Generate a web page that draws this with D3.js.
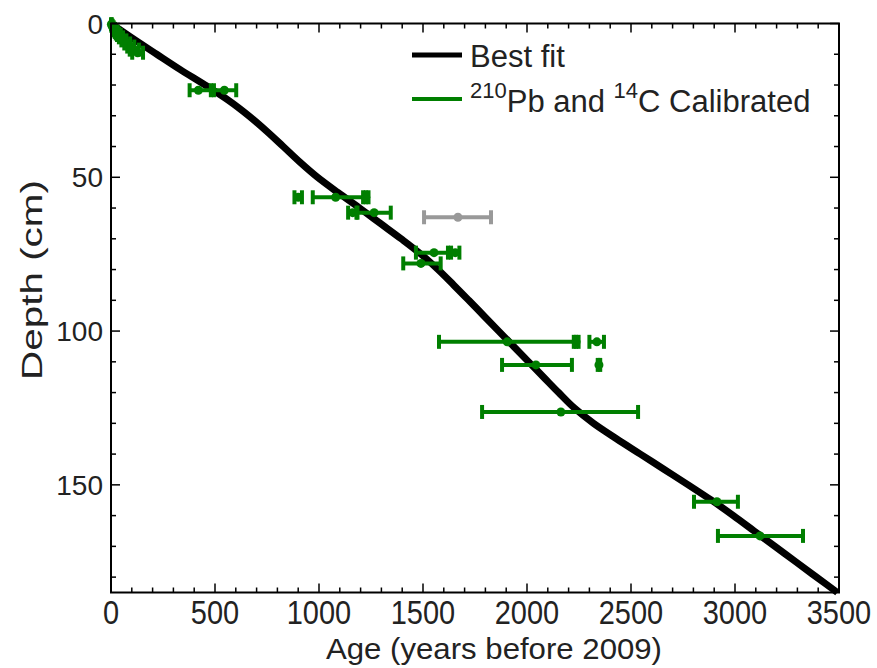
<!DOCTYPE html>
<html lang="en">
<head>
    <meta charset="UTF-8">
    <title>Age-depth model</title>
    <script src="https://d3js.org/d3.v7.min.js"></script>
    <style>
        body { margin: 0; background: #fff; }
        text { font-family: "Liberation Sans", Arial, Helvetica, sans-serif; fill: #222; }
        .frame { fill: none; stroke: #000; stroke-width: 2px; }
        .tick line { stroke: #000; stroke-width: 1.5px; }
        .fit { fill: none; stroke: #000; stroke-width: 7px; }
    </style>
</head>
<body>
    <svg width="877" height="668"></svg>
    <script>
        // best fit curve (depth cm -> age yr)
        const fitDepth = [0, 5, 10, 15, 20, 25, 30, 35, 40, 45, 50, 55, 60, 65, 70, 75, 80, 85, 90, 95, 100, 105, 110, 115, 120, 125, 130, 135, 140, 145, 150, 155, 160, 165, 170, 175, 180, 185];
        const fitAge   = [0, 108, 220, 333, 452, 565, 662, 748, 828, 907, 993, 1092, 1195, 1295, 1395, 1490, 1572, 1647, 1720, 1792, 1864, 1936, 2008, 2080, 2152, 2227, 2320, 2430, 2545, 2660, 2775, 2887, 2992, 3092, 3192, 3292, 3392, 3492];

        // 210Pb dates near the top
        const pbDepth = [0.25, 0.75, 1.25, 1.75, 2.25, 2.75, 3.25, 3.75, 4.5, 5.5, 6.5, 7.5, 8.5, 9.5];
        const pbAge   = [2, 5, 9, 14, 19, 25, 31, 38, 48, 62, 78, 95, 112, 128];
        const pbErr   = [2, 3, 4, 5, 6, 7, 8, 9, 10, 12, 14, 17, 22, 26];

        // 14C calibrated dates
        const cDepth = [21.7, 21.7, 56.5, 56.5, 56.5, 61.5, 61.5, 74.5, 74.5, 78, 103.5, 103.5, 103.5, 111, 111, 126.3, 155.5, 166.6];
        const cAge   = [420, 545, 900, 1080, 1225, 1162, 1265, 1553, 1655, 1490, 1905, 2236, 2336, 2043, 2346, 2163, 2913, 3120];
        const cLo    = [378, 480, 882, 970, 1212, 1140, 1180, 1466, 1635, 1405, 1577, 2225, 2300, 1880, 2340, 1784, 2803, 2918];
        const cHi    = [495, 602, 918, 1225, 1238, 1185, 1345, 1620, 1675, 1585, 2236, 2248, 2370, 2216, 2352, 2534, 3014, 3327];

        // rejected date (grey)
        const rejDepth = [63];
        const rejAge   = [1668];
        const rejLo    = [1505];
        const rejHi    = [1827];

        const xTicks = [0, 500, 1000, 1500, 2000, 2500, 3000, 3500];
        const yTicks = [0, 50, 100, 150];

        const mL = 111, mR = 839, mT = 23.5, mB = 592.5;
        const x = d3.scaleLinear().domain([0, 3500]).range([mL, mR]);
        const y = d3.scaleLinear().domain([0, 185]).range([mT, mB]);

        const svg = d3.select("svg");
        const green = "#007f00", grey = "#999999";

        // best fit
        const fit = fitDepth.map((d, i) => ({ d: d, a: fitAge[i] }));
        svg.append("path")
            .datum(fit)
            .attr("class", "fit")
            .attr("d", d3.line().x(p => x(p.a)).y(p => y(p.d)).curve(d3.curveMonotoneY));

        // error bars
        function errorBars(rows, color) {
            const g = svg.append("g").attr("stroke", color).attr("fill", color);
            const row = g.selectAll("g").data(rows).enter().append("g");
            row.append("line")
                .attr("x1", r => x(r.lo)).attr("x2", r => x(r.hi))
                .attr("y1", r => y(r.d)).attr("y2", r => y(r.d))
                .attr("stroke-width", 4);
            row.selectAll(".cap").data(r => [[r.lo, r.d], [r.hi, r.d]]).enter()
                .append("line")
                .attr("x1", c => x(c[0])).attr("x2", c => x(c[0]))
                .attr("y1", c => y(c[1]) - 7).attr("y2", c => y(c[1]) + 7)
                .attr("stroke-width", 4);
            row.append("circle")
                .attr("cx", r => x(r.a)).attr("cy", r => y(r.d))
                .attr("r", 4.5).attr("stroke", "none");
        }

        const pbRows = pbDepth.map((d, i) => ({ d: d, a: pbAge[i], lo: pbAge[i] - pbErr[i], hi: pbAge[i] + pbErr[i] }));
        const cRows = cDepth.map((d, i) => ({ d: d, a: cAge[i], lo: cLo[i], hi: cHi[i] }));
        const rejRows = rejDepth.map((d, i) => ({ d: d, a: rejAge[i], lo: rejLo[i], hi: rejHi[i] }));
        errorBars(rejRows, grey);
        errorBars(pbRows, green);
        errorBars(cRows, green);

        // ticks, inward on all four sides
        const xMinor = d3.range(0, 3501, 100);
        const yMinor = d3.range(0, 186, 10);
        const tk = svg.append("g").attr("class", "tick");
        xMinor.forEach(v => {
            const len = v % 500 === 0 ? 9 : 5;
            tk.append("line").attr("x1", x(v)).attr("x2", x(v)).attr("y1", mB).attr("y2", mB - len);
            tk.append("line").attr("x1", x(v)).attr("x2", x(v)).attr("y1", mT).attr("y2", mT + len);
        });
        yMinor.forEach(v => {
            const len = v % 50 === 0 ? 9 : 5;
            tk.append("line").attr("y1", y(v)).attr("y2", y(v)).attr("x1", mL).attr("x2", mL + len);
            tk.append("line").attr("y1", y(v)).attr("y2", y(v)).attr("x1", mR).attr("x2", mR - len);
        });

        svg.append("rect").attr("class", "frame")
            .attr("x", mL).attr("y", mT).attr("width", mR - mL).attr("height", mB - mT);

        // tick labels (x labels slightly tall in the original)
        svg.selectAll(".xl").data(xTicks).enter().append("text")
            .attr("transform", d => `translate(${x(d)},624) scale(1,1.15)`)
            .attr("text-anchor", "middle").attr("font-size", 29)
            .text(d => d);
        svg.selectAll(".yl").data(yTicks).enter().append("text")
            .attr("x", 103).attr("y", d => y(d) + 10)
            .attr("text-anchor", "end").attr("font-size", 28)
            .text(d => d);

        // axis titles
        svg.append("text")
            .attr("x", 494).attr("y", 659)
            .attr("text-anchor", "middle").attr("font-size", 30)
            .attr("textLength", 336).attr("lengthAdjust", "spacingAndGlyphs")
            .text("Age (years before 2009)");
        svg.append("text")
            .attr("transform", "translate(42,280) rotate(-90)")
            .attr("text-anchor", "middle").attr("font-size", 30)
            .attr("textLength", 200).attr("lengthAdjust", "spacingAndGlyphs")
            .text("Depth (cm)");

        // legend
        const lg = svg.append("g");
        lg.append("line").attr("x1", 412).attr("x2", 462).attr("y1", 55).attr("y2", 55)
            .attr("stroke", "#000").attr("stroke-width", 5);
        lg.append("line").attr("x1", 412).attr("x2", 462).attr("y1", 99).attr("y2", 99)
            .attr("stroke", green).attr("stroke-width", 4);
        lg.append("text").attr("x", 470).attr("y", 67).attr("font-size", 31).text("Best fit");
        const t2 = lg.append("text").attr("x", 470).attr("y", 112).attr("font-size", 31);
        t2.append("tspan").attr("font-size", 22).attr("dy", -14).text("210");
        t2.append("tspan").attr("dy", 14).text("Pb and ");
        t2.append("tspan").attr("font-size", 22).attr("dy", -14).text("14");
        t2.append("tspan").attr("dy", 14).text("C Calibrated");
    </script>
</body>
</html>
